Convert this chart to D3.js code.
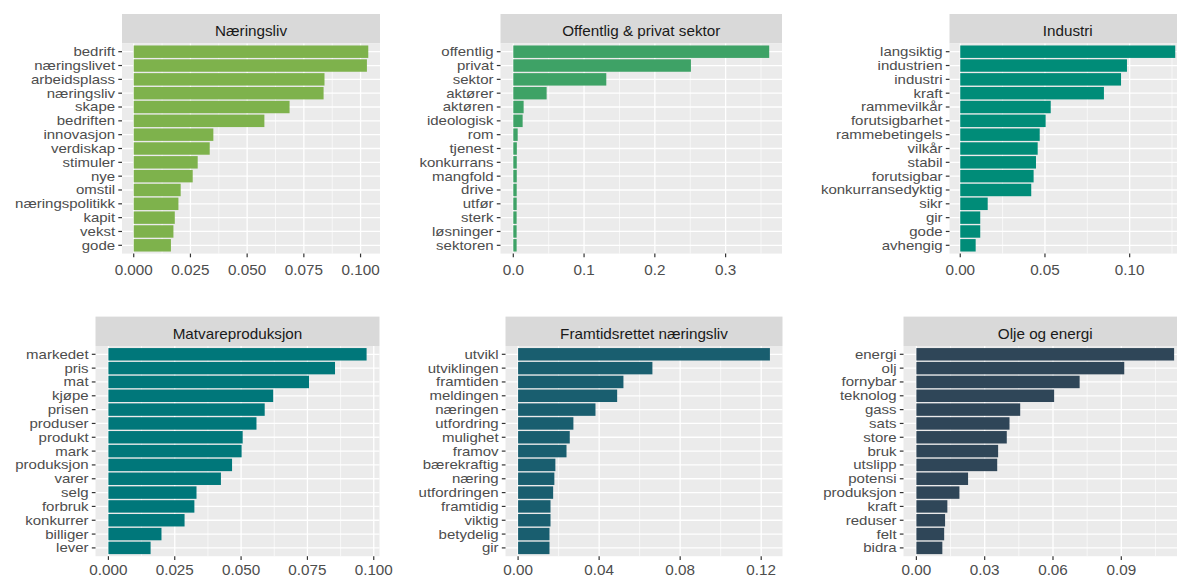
<!DOCTYPE html>
<html>
<head>
<meta charset="utf-8">
<script src="https://cdn.jsdelivr.net/npm/d3@7"></script>
<style>
  html, body { margin: 0; padding: 0; background: #ffffff; overflow: hidden; }
  svg { display: block; }
  text { font-family: "Liberation Sans", Arial, sans-serif; }
</style>
</head>
<body>
<svg id="chart" width="1177" height="578"></svg>
<script>
// ---------- data ----------
const titles = ["Næringsliv", "Offentlig & privat sektor", "Industri",
                "Matvareproduksjon", "Framtidsrettet næringsliv", "Olje og energi"];

const colors = ["#7EB24C", "#3EA266", "#008C78", "#00777A", "#195E6F", "#2F4658"];

const cats1 = ["bedrift","næringslivet","arbeidsplass","næringsliv","skape","bedriften","innovasjon","verdiskap","stimuler","nye","omstil","næringspolitikk","kapit","vekst","gode"];
const vals1 = [0.1034,0.1028,0.0841,0.0837,0.0687,0.0576,0.0351,0.0335,0.0282,0.0260,0.0207,0.0197,0.0181,0.0175,0.0164];

const cats2 = ["offentlig","privat","sektor","aktører","aktøren","ideologisk","rom","tjenest","konkurrans","mangfold","drive","utfør","sterk","løsninger","sektoren"];
const vals2 = [0.3616,0.2510,0.1314,0.0471,0.0146,0.0132,0.0062,0.0050,0.0049,0.0049,0.0048,0.0048,0.0047,0.0047,0.0047];

const cats3 = ["langsiktig","industrien","industri","kraft","rammevilkår","forutsigbarhet","rammebetingels","vilkår","stabil","forutsigbar","konkurransedyktig","sikr","gir","gode","avhengig"];
const vals3 = [0.1269,0.0984,0.0949,0.0848,0.0534,0.0504,0.0469,0.0457,0.0447,0.0433,0.0419,0.0162,0.0118,0.0118,0.0091];

const cats4 = ["markedet","pris","mat","kjøpe","prisen","produser","produkt","mark","produksjon","varer","selg","forbruk","konkurrer","billiger","lever"];
const vals4 = [0.0973,0.0854,0.0756,0.0621,0.0589,0.0558,0.0506,0.0502,0.0466,0.0424,0.0332,0.0324,0.0287,0.0200,0.0159];

const cats5 = ["utvikl","utviklingen","framtiden","meldingen","næringen","utfordring","mulighet","framov","bærekraftig","næring","utfordringen","framtidig","viktig","betydelig","gir"];
const vals5 = [0.1243,0.0663,0.0520,0.0489,0.0382,0.0273,0.0255,0.0239,0.0184,0.0179,0.0173,0.0160,0.0160,0.0155,0.0155];

const cats6 = ["energi","olj","fornybar","teknolog","gass","sats","store","bruk","utslipp","potensi","produksjon","kraft","reduser","felt","bidra"];
const vals6 = [0.1132,0.0913,0.0717,0.0605,0.0456,0.0409,0.0397,0.0359,0.0355,0.0227,0.0189,0.0136,0.0126,0.0122,0.0114];

const ticks1 = [0, 0.025, 0.05, 0.075, 0.1];
const tickLabels1 = ["0.000","0.025","0.050","0.075","0.100"];
const ticks2 = [0, 0.1, 0.2, 0.3];
const tickLabels2 = ["0.0","0.1","0.2","0.3"];
const ticks3 = [0, 0.05, 0.1];
const tickLabels3 = ["0.00","0.05","0.10"];
const ticks4 = [0, 0.025, 0.05, 0.075, 0.1];
const tickLabels4 = ["0.000","0.025","0.050","0.075","0.100"];
const ticks5 = [0, 0.04, 0.08, 0.12];
const tickLabels5 = ["0.00","0.04","0.08","0.12"];
const ticks6 = [0, 0.03, 0.06, 0.09];
const tickLabels6 = ["0.00","0.03","0.06","0.09"];

// ---------- layout ----------
const panels = [
  {cats: cats1, vals: vals1, ticks: ticks1, labels: tickLabels1, left: 122,   right: 380,   top: 14},
  {cats: cats2, vals: vals2, ticks: ticks2, labels: tickLabels2, left: 500.5, right: 782,   top: 14},
  {cats: cats3, vals: vals3, ticks: ticks3, labels: tickLabels3, left: 949.5, right: 1186,  top: 14},
  {cats: cats4, vals: vals4, ticks: ticks4, labels: tickLabels4, left: 95.5,  right: 379.5, top: 316.6},
  {cats: cats5, vals: vals5, ticks: ticks5, labels: tickLabels5, left: 505.5, right: 782.5, top: 316.6},
  {cats: cats6, vals: vals6, ticks: ticks6, labels: tickLabels6, left: 903.5, right: 1187,  top: 316.6}
];
const stripH = 29.4;
const panelH = 210.2;
const fontSize = 14.6;     // strip titles and x tick labels
const yFontSize = 12.4;    // category labels (tightly packed)
const stretch = 1.045;
const yStretch = 1.21;
const tickLen = 3.7;

const svg = d3.select("#chart");
svg.append("rect").attr("width", 1177).attr("height", 578).attr("fill", "#ffffff");

function label(sel, x, y, txt, anchor, fill, dy, fs, sx) {
  sel.append("text")
    .attr("transform", `translate(${x},${y}) scale(${sx},1)`)
    .attr("dy", dy || 0)
    .attr("text-anchor", anchor).attr("font-size", fs).attr("fill", fill)
    .text(txt);
}

panels.forEach((p, i) => {
  const g = svg.append("g");
  const pTop = p.top + stripH;
  const pBot = pTop + panelH;
  const maxV = d3.max(p.vals);
  const x = d3.scaleLinear().domain([-0.05 * maxV, 1.05 * maxV]).range([p.left, p.right]);
  const y = d3.scalePoint().domain(p.cats).range([pTop, pBot]).padding(0.6);
  const step = y.step();
  const barH = step * 0.9;

  // strip
  g.append("rect").attr("x", p.left).attr("y", p.top).attr("width", p.right - p.left).attr("height", stripH)
    .attr("fill", "#D9D9D9");
  label(g, (p.left + p.right) / 2, p.top + 22, titles[i], "middle", "#1A1A1A", 0, fontSize, stretch);

  // panel background
  g.append("rect").attr("x", p.left).attr("y", pTop).attr("width", p.right - p.left).attr("height", panelH)
    .attr("fill", "#EBEBEB");

  // minor grid
  const st = p.ticks[1] - p.ticks[0];
  const minors = [];
  for (let k = -1; k < p.ticks.length; k++) {
    const m = p.ticks[0] + (k + 0.5) * st;
    const d = x.domain();
    if (m >= d[0] && m <= d[1]) minors.push(m);
  }
  g.selectAll(".minor").data(minors).enter().append("line")
    .attr("x1", d => x(d)).attr("x2", d => x(d)).attr("y1", pTop).attr("y2", pBot)
    .attr("stroke", "#ffffff").attr("stroke-width", 0.65);

  // major grid
  g.selectAll(".majx").data(p.ticks).enter().append("line")
    .attr("x1", d => x(d)).attr("x2", d => x(d)).attr("y1", pTop).attr("y2", pBot)
    .attr("stroke", "#ffffff").attr("stroke-width", 1.3);
  g.selectAll(".majy").data(p.cats).enter().append("line")
    .attr("x1", p.left).attr("x2", p.right).attr("y1", d => y(d)).attr("y2", d => y(d))
    .attr("stroke", "#ffffff").attr("stroke-width", 1.3);

  // bars
  g.selectAll(".bar").data(p.cats.map((c, j) => ({c, v: p.vals[j]}))).enter().append("rect")
    .attr("x", x(0)).attr("y", d => y(d.c) - barH / 2)
    .attr("width", d => x(d.v) - x(0)).attr("height", barH)
    .attr("fill", colors[i]);

  // y axis ticks + labels
  g.selectAll(".yt").data(p.cats).enter().append("line")
    .attr("x1", p.left - tickLen).attr("x2", p.left).attr("y1", d => y(d)).attr("y2", d => y(d))
    .attr("stroke", "#333333").attr("stroke-width", 1.2);
  p.cats.forEach(c => label(g, p.left - tickLen - 3.2, y(c), c, "end", "#4D4D4D", "0.36em", yFontSize, yStretch));

  // x axis ticks + labels (kept inside the 578px frame)
  g.selectAll(".xt").data(p.ticks).enter().append("line")
    .attr("x1", d => x(d)).attr("x2", d => x(d)).attr("y1", pBot).attr("y2", pBot + tickLen)
    .attr("stroke", "#333333").attr("stroke-width", 1.2);
  p.ticks.forEach((t, j) => label(g, x(t), Math.min(pBot + 21.5, 575), p.labels[j], "middle", "#4D4D4D", 0, fontSize, stretch));
});
</script>
</body>
</html>
